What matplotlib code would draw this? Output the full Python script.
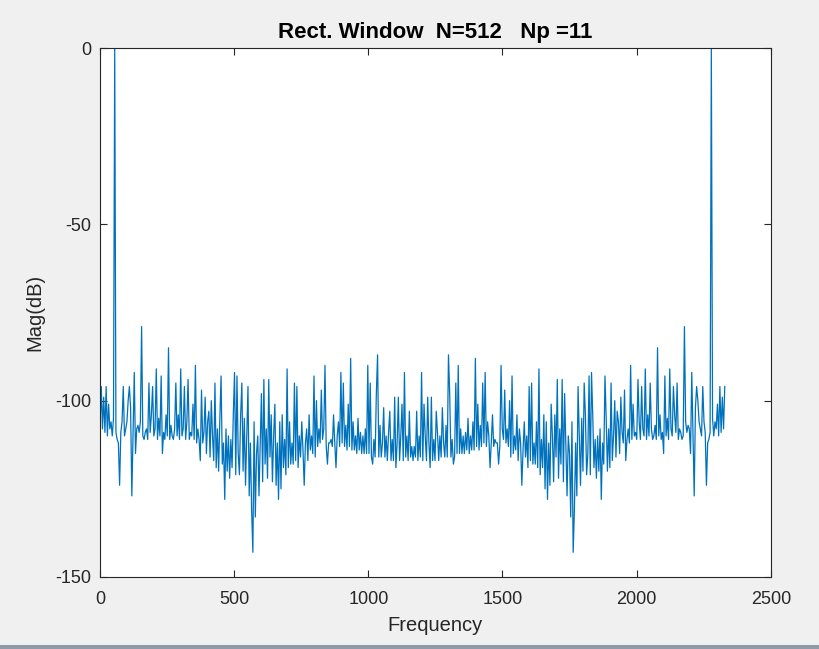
import numpy as np
import matplotlib
matplotlib.use("Agg")
import matplotlib.pyplot as plt
from matplotlib.patches import Rectangle

# FFT magnitude (dB), 512 bins
N = 512
fs = 2333
mag_db = [
    -107, -96, -108, -99, -109, -96, -110, -101, -108, -106,
    -110, -105, 0, -109, -111, -112, -124, -109, -106, -96,
    -110, -108, -106, -100, -96, -102, -127, -110, -92, -115,
    -108, -107, -109, -106, -79, -110, -111, -109, -108, -111,
    -95, -109, -104, -96, -110, -108, -91, -111, -105, -110,
    -93, -115, -109, -111, -104, -110, -85, -111, -107, -110,
    -111, -108, -95, -110, -104, -111, -91, -110, -108, -96,
    -111, -106, -94, -111, -109, -110, -101, -111, -90, -112,
    -108, -111, -117, -97, -112, -109, -99, -115, -106, -103,
    -116, -100, -110, -117, -95, -119, -108, -120, -105, -93,
    -118, -112, -128, -108, -120, -110, -122, -111, -119, -104,
    -92, -121, -93, -115, -121, -104, -95, -120, -105, -124,
    -110, -96, -127, -112, -131, -143, -106, -133, -115, -110,
    -127, -113, -98, -123, -94, -118, -108, -122, -94, -116,
    -104, -123, -110, -101, -124, -112, -128, -106, -125, -104,
    -119, -111, -121, -91, -119, -106, -118, -112, -118, -95,
    -117, -96, -119, -110, -116, -106, -114, -124, -112, -108,
    -117, -104, -114, -110, -115, -93, -116, -100, -113, -108,
    -112, -97, -111, -108, -90, -113, -118, -112, -112, -111,
    -113, -104, -112, -119, -110, -106, -113, -92, -112, -95,
    -113, -107, -114, -101, -113, -88, -114, -106, -114, -110,
    -115, -105, -114, -109, -115, -110, -115, -108, -115, -90,
    -115, -95, -116, -118, -111, -116, -98, -87, -116, -107,
    -116, -112, -102, -116, -110, -117, -109, -103, -117, -111,
    -117, -99, -119, -112, -99, -117, -110, -101, -117, -92,
    -116, -110, -117, -103, -116, -113, -117,
    -113, -116, -103, -117, -110, -116,
    -92, -117, -101, -110, -117, -99, -112, -119, -99, -117,
    -111, -117, -103, -109, -117, -110, -116, -102, -112, -116,
    -107, -116, -87, -98, -116, -111, -118, -116, -95, -115,
    -90, -115, -108, -115, -110, -115, -109, -114, -105, -115,
    -110, -114, -106, -114, -88, -113, -101, -114, -107, -113,
    -95, -112, -92, -113, -106, -110, -119, -112, -104, -113,
    -111, -112, -112, -118, -113, -90, -108, -111, -97, -112,
    -108, -113, -100, -116, -93, -115, -110, -114, -104, -117,
    -108, -112, -124, -114, -106, -116, -110, -119, -96, -117,
    -95, -118, -112, -118, -106, -119, -91, -121, -111, -119,
    -104, -125, -106, -128, -112, -124, -101, -110, -123, -104,
    -116, -94, -122, -108, -118, -94, -123, -98, -113, -127,
    -110, -115, -133, -106, -143, -131, -112, -127, -96, -110,
    -124, -105, -120, -95, -104, -121, -115, -93, -121, -92,
    -104, -119, -111, -122, -110, -120, -108, -128, -112, -118,
    -93, -105, -120, -108, -119, -95, -117, -110, -100, -116,
    -103, -106, -115, -99, -109, -112, -97, -117, -111, -108,
    -112, -90, -111, -101, -110, -109, -111, -94, -106, -111,
    -96, -108, -110, -91, -111, -104, -110, -95, -108, -111,
    -110, -107, -111, -85, -110, -104, -111, -109, -115, -93,
    -110, -105, -111, -91, -108, -110, -96, -104, -109, -95,
    -111, -108, -109, -111, -110, -79, -106, -109, -107, -108,
    -115, -92, -110, -127, -102, -96, -100, -106, -108, -110,
    -96, -106, -109, -124, -112, -111, -109, 0, -105, -110,
    -106, -108, -101, -110, -96, -109, -99, -108, -96,
]
freq = np.arange(N) * fs / N

xticks = [0, 500, 1000, 1500, 2000, 2500]
yticks = [-150, -100, -50, 0]

plt.rcParams["font.family"] = ["Liberation Sans", "DejaVu Sans"]
plt.rcParams["axes.unicode_minus"] = False

fig = plt.figure(figsize=(8.2, 6.49), dpi=100, facecolor="#f0f0f0")
ax = fig.add_axes([0.122, 0.111, 0.818, 0.815])
ax.plot(freq, mag_db, color="#0072bd", lw=0.9)

ax.set_xlim(0, 2500)
ax.set_ylim(-150, 0)
ax.set_xticks(xticks)
ax.set_yticks(yticks)
ax.tick_params(direction="in", top=True, right=True, length=5,
               labelsize=13, colors="#262626", width=0.8)
ax.tick_params(axis="x", pad=10)
ax.tick_params(axis="y", pad=6)
for s in ax.spines.values():
    s.set_color("#262626")
    s.set_linewidth(0.8)

ax.set_xlabel("Frequency", fontsize=14.5, color="#262626", labelpad=6)
ax.set_ylabel("Mag(dB)", fontsize=14.5, color="#262626", labelpad=8)
ax.set_title("Rect. Window  N=512   Np =11", fontsize=16, fontweight="bold", pad=7)

# window border strip at the bottom of the screenshot
fig.patches.append(Rectangle((0, 0), 1, 4 / 649, transform=fig.transFigure,
                             facecolor="#8f9ba6", edgecolor="none"))

fig.savefig("out.png", dpi=100, facecolor=fig.get_facecolor())
